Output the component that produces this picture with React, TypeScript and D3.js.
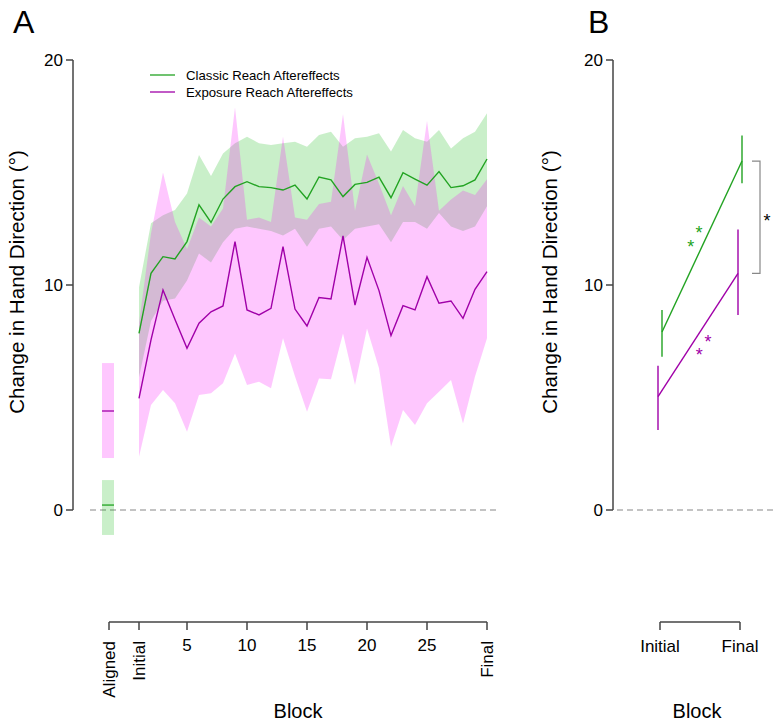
import React from "react";
import * as d3 from "d3";

// ---------- data ----------
const blocks = d3.range(1, 31);
const classicMean = [7.85, 10.52, 11.26, 11.16, 11.93, 13.56, 12.78, 13.82, 14.37, 14.59, 14.37, 14.33, 14.22, 14.44, 13.82, 14.8, 14.67, 13.93, 14.47, 14.56, 14.79, 13.88, 14.99, 14.71, 14.44, 15.04, 14.33, 14.41, 14.67, 15.6];
const classicUpper = [9.9, 12.74, 13.1, 13.33, 14.07, 15.78, 14.84, 15.85, 16.3, 16.59, 16.3, 16.22, 16.3, 16.37, 16.15, 16.67, 16.81, 16.15, 16.52, 16.59, 16.74, 15.93, 16.89, 16.52, 16.37, 16.89, 16.07, 16.52, 16.81, 17.63];
const classicLower = [5.9, 8.4, 9.3, 9.4, 10.2, 11.4, 11.0, 11.9, 12.5, 12.6, 12.5, 12.4, 12.2, 12.5, 11.7, 12.5, 12.6, 12.0, 12.5, 12.6, 12.7, 11.9, 12.8, 12.8, 12.5, 13.2, 12.6, 12.4, 12.6, 13.5];
const exposureMean = [4.96, 7.56, 9.78, 8.47, 7.19, 8.3, 8.81, 9.07, 11.93, 8.89, 8.67, 8.96, 11.7, 8.93, 8.18, 9.44, 9.38, 12.18, 9.11, 11.23, 9.75, 7.75, 9.08, 8.89, 10.37, 9.19, 9.29, 8.52, 9.81, 10.59];
const exposureUpper = [8.3, 12.3, 15.0, 12.8, 11.6, 13.0, 12.6, 13.4, 17.9, 12.9, 13.0, 12.8, 16.6, 13.0, 12.9, 13.6, 13.7, 17.6, 13.3, 15.8, 14.5, 13.1, 14.4, 13.5, 17.3, 13.3, 13.8, 14.2, 14.0, 14.7];
const exposureLower = [2.37, 4.67, 5.33, 4.74, 3.48, 5.11, 5.19, 5.63, 6.96, 5.56, 5.7, 5.41, 7.63, 5.93, 4.37, 5.85, 5.81, 7.85, 5.56, 8.07, 6.3, 2.81, 4.44, 3.78, 4.74, 5.26, 5.78, 3.85, 5.93, 7.63];

// aligned: [lower, mean, upper]
const alignedClassic = [-1.11, 0.22, 1.33];
const alignedExposure = [2.31, 4.4, 6.53];

// panel B: [initial, final], CIs
const bClassicMean = [7.91, 15.51];
const bClassicLo = [6.81, 14.52];
const bClassicHi = [8.89, 16.64];
const bExposureMean = [5.04, 10.52];
const bExposureLo = [3.56, 8.67];
const bExposureHi = [6.41, 12.47];

const yTicks = [0, 10, 20];
const xTicksA = [
  { v: -1.5, label: "Aligned", rot: true },
  { v: 1, label: "Initial", rot: true },
  { v: 5, label: "5", rot: false },
  { v: 10, label: "10", rot: false },
  { v: 15, label: "15", rot: false },
  { v: 20, label: "20", rot: false },
  { v: 25, label: "25", rot: false },
  { v: 30, label: "Final", rot: true },
];
const xLabelsB = ["Initial", "Final"];
const legendLabels = ["Classic Reach Aftereffects", "Exposure Reach Aftereffects"];

const GREEN = "#22a322";
const PURPLE = "#a000a8";
const GREEN_FILL = "rgba(0,180,0,0.21)";
const PINK_FILL = "rgba(250,0,250,0.22)";
const AXIS = "#444";
const FONT = "'Liberation Sans', Arial, Helvetica, sans-serif";

export default function App() {
  const yA = d3.scaleLinear().domain([0, 20]).range([510, 60]);
  const xA = d3.scaleLinear().domain([1, 30]).range([139, 487]);
  const xB = d3.scaleLinear().domain([0, 1]).range([660, 740]);

  const areaFn = (lo: number[], hi: number[]) =>
    d3
      .area<number>()
      .x((d) => xA(d))
      .y0((_, i) => yA(lo[i]))
      .y1((_, i) => yA(hi[i]))(blocks) as string;
  const lineFn = (m: number[]) =>
    d3
      .line<number>()
      .x((d) => xA(d))
      .y((_, i) => yA(m[i]))(blocks) as string;

  const axA = 73;
  const axB = 613;
  const xAxisY = 622;
  const ax = xA(-1.5);

  const yLabel = "Change in Hand Direction (°)";

  const star = (cx: number, cy: number, color: string, key: string) => (
    <text key={key} x={cx} y={cy + 10} fill={color} fontSize={18} textAnchor="middle" fontFamily={FONT}>
      *
    </text>
  );

  return (
    <svg width={776} height={723} style={{ position: "absolute", left: 0, top: 0 }} fontFamily={FONT}>
      <rect width={776} height={723} fill="#fff" />
      {/* Panel labels */}
      <text x={13} y={33} fontSize={32}>A</text>
      <text x={588} y={33} fontSize={32}>B</text>

      {/* ---------- Panel A ---------- */}
      <line x1={90} x2={497} y1={yA(0)} y2={yA(0)} stroke="#888" strokeDasharray="6,4" strokeWidth={1.2} />

      {/* aligned */}
      <rect x={ax - 7} width={12} y={yA(alignedExposure[2])} height={yA(alignedExposure[0]) - yA(alignedExposure[2])} fill={PINK_FILL} />
      <line x1={ax - 7} x2={ax + 5} y1={yA(alignedExposure[1])} y2={yA(alignedExposure[1])} stroke={PURPLE} strokeWidth={1.3} />
      <rect x={ax - 7} width={12} y={yA(alignedClassic[2])} height={yA(alignedClassic[0]) - yA(alignedClassic[2])} fill={GREEN_FILL} />
      <line x1={ax - 7} x2={ax + 5} y1={yA(alignedClassic[1])} y2={yA(alignedClassic[1])} stroke={GREEN} strokeWidth={1.3} />

      {/* bands */}
      <path d={areaFn(classicLower, classicUpper)} fill={GREEN_FILL} />
      <path d={areaFn(exposureLower, exposureUpper)} fill={PINK_FILL} />
      <path d={lineFn(classicMean)} fill="none" stroke={GREEN} strokeWidth={1.4} />
      <path d={lineFn(exposureMean)} fill="none" stroke={PURPLE} strokeWidth={1.4} />

      {/* legend */}
      {legendLabels.map((l, i) => (
        <g key={l}>
          <line x1={150} x2={175} y1={75 + i * 17} y2={75 + i * 17} stroke={i === 0 ? GREEN : PURPLE} strokeWidth={1.3} />
          <text x={186} y={75 + i * 17} dy="0.35em" fontSize={13.2}>{l}</text>
        </g>
      ))}

      {/* y axis A */}
      <line x1={axA} x2={axA} y1={yA(20)} y2={yA(0)} stroke={AXIS} strokeWidth={1.5} />
      {yTicks.map((t) => (
        <g key={"ya" + t}>
          <line x1={axA - 7} x2={axA} y1={yA(t)} y2={yA(t)} stroke={AXIS} strokeWidth={1.5} />
          <text x={axA - 10} y={yA(t)} dy="0.36em" textAnchor="end" fontSize={17}>{t}</text>
        </g>
      ))}
      <text transform={`translate(24, ${(yA(0) + yA(20)) / 2 - 3}) rotate(-90)`} textAnchor="middle" fontSize={20.6}>{yLabel}</text>

      {/* x axis A */}
      <line x1={ax} x2={xA(30)} y1={xAxisY} y2={xAxisY} stroke={AXIS} strokeWidth={1.5} />
      {xTicksA.map((t) => (
        <g key={"xa" + t.label}>
          <line x1={xA(t.v)} x2={xA(t.v)} y1={xAxisY} y2={xAxisY + 8} stroke={AXIS} strokeWidth={1.5} />
          {t.rot ? (
            <text transform={`translate(${xA(t.v)}, 641) rotate(-90)`} textAnchor="end" dy="0.36em" fontSize={17}>{t.label}</text>
          ) : (
            <text x={xA(t.v)} y={651} textAnchor="middle" fontSize={17}>{t.label}</text>
          )}
        </g>
      ))}
      <text x={(ax + xA(30)) / 2} y={718} textAnchor="middle" fontSize={20}>Block</text>

      {/* ---------- Panel B ---------- */}
      <line x1={617} x2={776} y1={yA(0)} y2={yA(0)} stroke="#888" strokeDasharray="6,4" strokeWidth={1.2} />
      <line x1={axB} x2={axB} y1={yA(20)} y2={yA(0)} stroke={AXIS} strokeWidth={1.5} />
      {yTicks.map((t) => (
        <g key={"yb" + t}>
          <line x1={axB - 7} x2={axB} y1={yA(t)} y2={yA(t)} stroke={AXIS} strokeWidth={1.5} />
          <text x={axB - 10} y={yA(t)} dy="0.36em" textAnchor="end" fontSize={17}>{t}</text>
        </g>
      ))}
      <text transform={`translate(557, ${(yA(0) + yA(20)) / 2 - 3}) rotate(-90)`} textAnchor="middle" fontSize={20.6}>{yLabel}</text>

      {/* B lines */}
      {[
        { m: bClassicMean, lo: bClassicLo, hi: bClassicHi, c: GREEN, off: 2 },
        { m: bExposureMean, lo: bExposureLo, hi: bExposureHi, c: PURPLE, off: -2 },
      ].map((s, k) => (
        <g key={"b" + k}>
          <line x1={xB(0) + s.off} x2={xB(1) + s.off} y1={yA(s.m[0])} y2={yA(s.m[1])} stroke={s.c} strokeWidth={1.4} />
          {[0, 1].map((i) => (
            <line key={i} x1={xB(i) + s.off} x2={xB(i) + s.off} y1={yA(s.lo[i])} y2={yA(s.hi[i])} stroke={s.c} strokeWidth={1.4} />
          ))}
        </g>
      ))}
      {star(xB(0.384), yA(11.88), GREEN, "g1")}
      {star(xB(0.4875), yA(12.49), GREEN, "g2")}
      {star(xB(0.49), yA(7.08), PURPLE, "p1")}
      {star(xB(0.6), yA(7.66), PURPLE, "p2")}
      {/* bracket */}
      <path
        d={`M752,${yA(bClassicMean[1])}H760V${yA(bExposureMean[1])}H752`}
        fill="none"
        stroke="#888"
        strokeWidth={1.2}
      />
      {star(767, (yA(bClassicMean[1]) + yA(bExposureMean[1])) / 2, "#000", "bk")}

      {/* x axis B */}
      <line x1={xB(0)} x2={xB(1)} y1={xAxisY} y2={xAxisY} stroke={AXIS} strokeWidth={1.5} />
      {xLabelsB.map((l, i) => (
        <g key={"xb" + l}>
          <line x1={xB(i)} x2={xB(i)} y1={xAxisY} y2={xAxisY + 8} stroke={AXIS} strokeWidth={1.5} />
          <text x={xB(i)} y={652} textAnchor="middle" fontSize={17}>{l}</text>
        </g>
      ))}
      <text x={697} y={718} textAnchor="middle" fontSize={20}>Block</text>
    </svg>
  );
}
